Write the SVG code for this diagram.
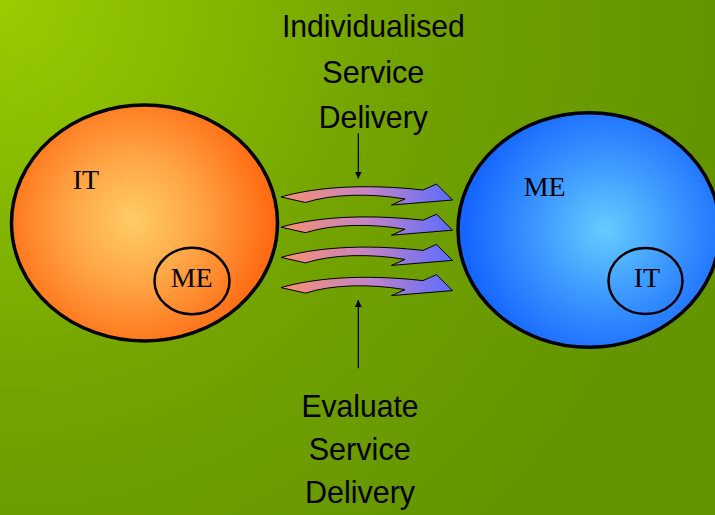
<svg xmlns="http://www.w3.org/2000/svg" width="715" height="515" viewBox="0 0 715 515">
  <defs>
    <radialGradient id="bg" gradientUnits="userSpaceOnUse" cx="0" cy="0" r="720">
      <stop offset="0" stop-color="#99CC00"/>
      <stop offset="0.55" stop-color="#72A300"/>
      <stop offset="1" stop-color="#649400"/>
    </radialGradient>
    <radialGradient id="orange" gradientUnits="userSpaceOnUse" cx="133" cy="220" r="140">
      <stop offset="0" stop-color="#FFCC66"/>
      <stop offset="0.45" stop-color="#FFA647"/>
      <stop offset="1" stop-color="#FF6A12"/>
    </radialGradient>
    <radialGradient id="blue" gradientUnits="userSpaceOnUse" cx="605" cy="230" r="140">
      <stop offset="0" stop-color="#66CCFF"/>
      <stop offset="0.45" stop-color="#3F9CFF"/>
      <stop offset="1" stop-color="#1565FF"/>
    </radialGradient>
    <linearGradient id="arrowFill" gradientUnits="userSpaceOnUse" x1="282" y1="0" x2="452" y2="0">
      <stop offset="0" stop-color="#F89070"/>
      <stop offset="0.5" stop-color="#C484C4"/>
      <stop offset="1" stop-color="#5C6CFF"/>
    </linearGradient>
    <marker id="head" viewBox="0 0 10 10" refX="10" refY="5" markerWidth="7" markerHeight="8" markerUnits="userSpaceOnUse" orient="auto">
      <path d="M0,0 L10,5 L0,10 Z" fill="#000"/>
    </marker>
    <path id="flow" d="M281,197 C312,188 360,183 423,190 L436.5,184 L452.5,200 L391.5,205 L405,199 C370,193 332,194 305.5,202.5 Z"/>
  </defs>
  <style>
    .big { stroke: #000; stroke-width: 3.5; }
    .inner { fill: none; stroke: #000; stroke-width: 2.5; }
    .serif { font-family: "Liberation Serif", "Times New Roman", serif; font-size: 28px; fill: #000; text-anchor: middle; }
    .label { font-family: "Liberation Sans", Arial, sans-serif; font-size: 32px; fill: #000; text-anchor: middle; }
    .flowArrow { fill: url(#arrowFill); stroke: #000; stroke-width: 1; stroke-linejoin: miter; }
    .pointer { stroke: #000; stroke-width: 1.2; fill: none; marker-end: url(#head); }
  </style>

  <rect x="0" y="0" width="715" height="515" fill="url(#bg)"/>

  <g id="node-left">
    <ellipse class="big" cx="144.5" cy="223" rx="133" ry="118" fill="url(#orange)"/>
    <text class="serif" x="86" y="189">IT</text>
    <g id="node-left-inner">
      <ellipse class="inner" cx="192" cy="281" rx="37.5" ry="33.3"/>
      <text class="serif" x="191.7" y="287.3">ME</text>
    </g>
  </g>

  <g id="node-right">
    <ellipse class="big" cx="589" cy="230" rx="131" ry="117.3" fill="url(#blue)"/>
    <text class="serif" x="544.7" y="196">ME</text>
    <g id="node-right-inner">
      <ellipse class="inner" cx="645.5" cy="281" rx="37" ry="33"/>
      <text class="serif" x="647" y="287.3">IT</text>
    </g>
  </g>

  <g id="label-top">
    <text class="label" x="373.4" y="37.3" textLength="183" lengthAdjust="spacingAndGlyphs">Individualised</text>
    <text class="label" x="373.3" y="82.7" textLength="102" lengthAdjust="spacingAndGlyphs">Service</text>
    <text class="label" x="373.3" y="128.3" textLength="109" lengthAdjust="spacingAndGlyphs">Delivery</text>
  </g>

  <g id="label-bottom">
    <text class="label" x="360" y="416.7" textLength="117" lengthAdjust="spacingAndGlyphs">Evaluate</text>
    <text class="label" x="359.7" y="460" textLength="102" lengthAdjust="spacingAndGlyphs">Service</text>
    <text class="label" x="360" y="503.3" textLength="110" lengthAdjust="spacingAndGlyphs">Delivery</text>
  </g>

  <g id="connectors">
    <use href="#flow" class="flowArrow"/>
    <use href="#flow" class="flowArrow" transform="translate(0,30.2)"/>
    <use href="#flow" class="flowArrow" transform="translate(0,60.4)"/>
    <use href="#flow" class="flowArrow" transform="translate(0,90.6)"/>
    <line class="pointer" x1="358.3" y1="133.3" x2="358.3" y2="178.5"/>
    <line class="pointer" x1="358.3" y1="368.3" x2="358.3" y2="300"/>
  </g>
</svg>
